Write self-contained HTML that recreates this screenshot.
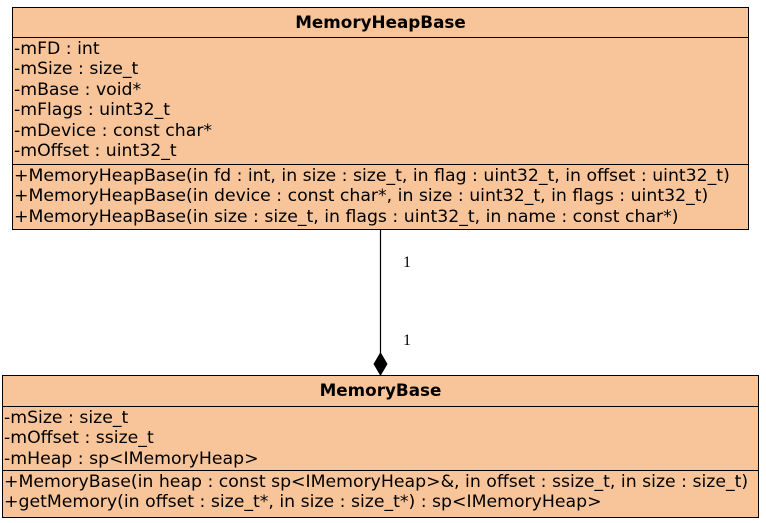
<!DOCTYPE html>
<html><head><meta charset="utf-8"><style>
body{margin:0;width:766px;height:523px;background:#fff;position:relative;overflow:hidden;font-family:"DejaVu Sans","Liberation Sans",sans-serif;}
.b{position:absolute;background:#f8c59a;border:1.5px solid #000;box-sizing:border-box;}
.h{position:absolute;left:0;right:0;text-align:center;font-weight:bold;font-size:16.8px;line-height:20px;}
.l{position:absolute;left:0;right:0;border-top:1.5px solid #000;}
.t{position:absolute;left:1px;font-size:17.3px;line-height:20.4px;white-space:pre;color:#000;}
.n{position:absolute;font-family:"Liberation Serif",serif;font-size:16px;}
</style></head><body>
<div class="b" style="left:12px;top:7px;width:737px;height:223px;">
 <div class="h" style="top:4px;">MemoryHeapBase</div>
 <div class="l" style="top:29px;"></div>
 <div class="t" style="top:31px;">-mFD : int
-mSize : size_t
-mBase : void*
-mFlags : uint32_t
-mDevice : const char*
-mOffset : uint32_t</div>
 <div class="l" style="top:156px;"></div>
 <div class="t" style="top:158px;">+MemoryHeapBase(in fd : int, in size : size_t, in flag : uint32_t, in offset : uint32_t)
+MemoryHeapBase(in device : const char*, in size : uint32_t, in flags : uint32_t)
+MemoryHeapBase(in size : size_t, in flags : uint32_t, in name : const char*)</div>
</div>
<svg style="position:absolute;left:0;top:0" width="766" height="523">
 <line x1="380.5" y1="229" x2="380.5" y2="356" stroke="#000" stroke-width="1.2"/>
 <polygon points="380.5,352 387.5,364 380.5,376 373.5,364" fill="#000"/>
</svg>
<div class="n" style="left:403px;top:254px;">1</div>
<div class="n" style="left:403px;top:332px;">1</div>
<div class="b" style="left:2px;top:375px;width:757px;height:143px;">
 <div class="h" style="top:4px;">MemoryBase</div>
 <div class="l" style="top:30px;"></div>
 <div class="t" style="top:32px;">-mSize : size_t
-mOffset : ssize_t
-mHeap : sp&lt;IMemoryHeap&gt;</div>
 <div class="l" style="top:94px;"></div>
 <div class="t" style="top:96px;">+MemoryBase(in heap : const sp&lt;IMemoryHeap&gt;&amp;, in offset : ssize_t, in size : size_t)
+getMemory(in offset : size_t*, in size : size_t*) : sp&lt;IMemoryHeap&gt;</div>
</div>
</body></html>
